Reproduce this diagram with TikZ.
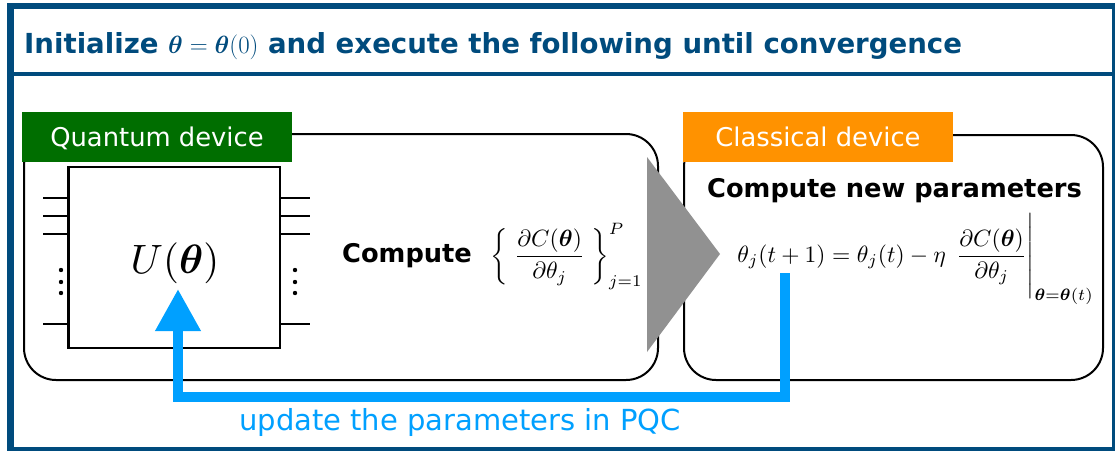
\documentclass[tikz,border=0pt]{standalone}
\usepackage{amsmath}
\usepackage{bm}
\usepackage{fontspec}
\newfontfamily\dejavu{DejaVu Sans}
\usetikzlibrary{arrows.meta}
\definecolor{frameblue}{RGB}{0,75,125}
\definecolor{qgreen}{RGB}{0,110,0}
\definecolor{corange}{RGB}{255,146,0}
\definecolor{updblue}{RGB}{0,160,255}
\definecolor{arrowgray}{RGB}{145,145,145}
\tikzset{
  devbox/.style={draw=black, line width=2pt, rounded corners=32pt, inner sep=0pt},
  devlabel/.style={inner sep=0pt, minimum width=270pt, minimum height=50pt, text=white,
    font=\dejavu\fontsize{25.8}{30}\selectfont, text height=18.8pt, text depth=0pt},
  circbox/.style={draw=black, line width=2.2pt, inner sep=0pt, minimum width=211.5pt, minimum height=181pt},
  wire/.style={line width=2pt},
  boldtxt/.style={inner sep=0pt, font=\dejavu\bfseries\fontsize{25.7}{30}\selectfont},
  mathtxt/.style={inner sep=0pt, scale=2.35, transform shape},
  updarrow/.style={draw=updblue, line width=10pt, -{Triangle[length=42pt,width=43pt]}},
}
\begin{document}
\begin{tikzpicture}[x=1pt,y=-1pt]
\useasboundingbox (0,0) rectangle (1115,450);
\fill[white] (0,0) rectangle (1115,450);
% outer frame and title divider
\draw[frameblue, line width=6.5pt] (10.5,6) rectangle (1115.3,450.3);
\draw[frameblue, line width=4pt] (10,74) -- (1115,74);
\node[anchor=base west, inner sep=0pt, text=frameblue, font=\dejavu\bfseries\fontsize{27.6}{32}\selectfont]
  (title) at (24,53) {Initialize $\bm{\theta}=\bm{\theta}(0)$ and execute the following until convergence};
% device boxes
\node[devbox, minimum width=634pt, minimum height=246pt] (qdev) at (341,257) {};
\node[devbox, minimum width=419pt, minimum height=245pt] (cdev) at (893.5,257.5) {};
% labels
\node[devlabel, fill=qgreen] (qlabel) at (157,137) {Quantum device};
\node[devlabel, fill=corange] (clabel) at (818,137) {Classical device};
% circuit
\node[circbox] (ubox) at (174.25,257.5) {};
\node[inner sep=0pt, scale=4.1, transform shape] (ulabel) at (175,263) {$U(\bm{\theta})$};
\foreach \yy in {198,216,234,324}{
  \draw[wire] (43,\yy) -- (68.5,\yy);
  \draw[wire] (280,\yy) -- (310,\yy);
}
\foreach \yy in {270,282,293}{
  \fill (61,\yy) circle (2.2pt);
  \fill (295,\yy) circle (2.2pt);
}
% compute gradient
\node[boldtxt, anchor=base west] (compute) at (342,262) {Compute};
\node[mathtxt, anchor=base west] (grad) at (490,262.5)
  {$\displaystyle\left\{\;\frac{\partial C(\bm{\theta})}{\partial\theta_j}\;\right\}_{j=1}^{P}$};
% gray arrow
\fill[arrowgray] (647,157) -- (647,352) -- (720,254) -- cycle;
% classical side
\node[boldtxt, anchor=base west] (newpar) at (707,197.5) {Compute new parameters};
\node[mathtxt, anchor=base west] (update) at (737,262)
  {$\displaystyle\theta_j(t+1)=\theta_j(t)-\eta\,\left.\rule[-1.58em]{0pt}{3.66em}\frac{\partial C(\bm{\theta})}{\partial\theta_j}\right|_{\bm{\theta}=\bm{\theta}(t)}$};
% feedback arrow
\coordinate (fb) at (785,273);
\coordinate (fbcorner) at (785,397);
\coordinate (utip) at (178,289);
\draw[updarrow] (fb) -- (fbcorner) -| (utip);
\node[anchor=base west, inner sep=0pt, text=updblue, font=\dejavu\fontsize{29}{33}\selectfont]
  (updtext) at (239,430) {update the parameters in PQC};
\end{tikzpicture}
\end{document}
